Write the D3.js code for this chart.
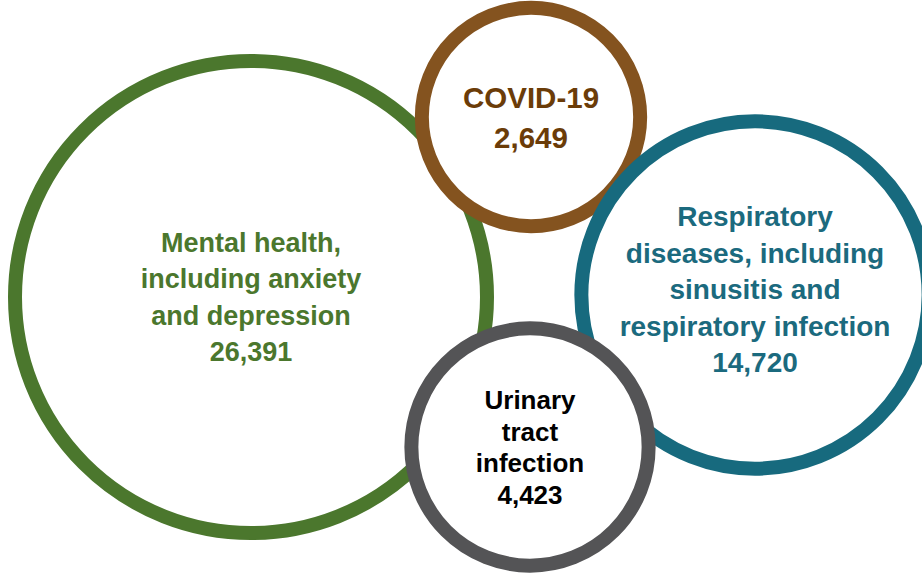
<!DOCTYPE html>
<html>
<head>
<meta charset="utf-8">
<script src="https://cdn.jsdelivr.net/npm/d3@7"></script>
<style>
  html, body { margin: 0; padding: 0; background: #ffffff; overflow: hidden; }
  svg { display: block; }
</style>
</head>
<body>
<svg id="chart" width="922" height="578"></svg>
<script>
// ---- data ----
const categories = ["Mental health", "COVID-19", "Respiratory diseases", "Urinary tract infection"];
const values = [26391, 2649, 14720, 4423];
const labelLines = [
  ["Mental health,", "including anxiety", "and depression"],
  ["COVID-19"],
  ["Respiratory", "diseases, including", "sinusitis and", "respiratory infection"],
  ["Urinary", "tract", "infection"]
];

// ---- layout & style (not data) ----
const W = 922, H = 578;
const layout = [
  { cx: 251, cy: 297 },
  { cx: 531, cy: 117 },
  { cx: 755, cy: 295 },
  { cx: 530, cy: 447 }
];
const styles = [
  { ring: "#4b772d", text: "#4b772d", font: 27,   lh: 36.5, dy: 0 },
  { ring: "#84531f", text: "#6b3c08", font: 29.5, lh: 40,   dy: 0 },
  { ring: "#176a7e", text: "#1b6a7e", font: 28,   lh: 36.5, dy: -6 },
  { ring: "#545456", text: "#000000", font: 26,   lh: 31.5, dy: 0 }
];
const strokeW = 14;

const rScale = d3.scaleLinear()
  .domain([0, d3.max(values)])
  .range([95, 236]);

const fmt = d3.format(",");

const nodes = categories.map((c, i) => ({
  name: c,
  value: values[i],
  lines: labelLines[i].concat([fmt(values[i])]),
  ...layout[i],
  ...styles[i]
}));

const svg = d3.select("#chart");

// custom radius tweaks to match picture via scale
const g = svg.selectAll("g.bubble")
  .data(nodes)
  .join("g")
  .attr("class", "bubble")
  .attr("transform", d => `translate(${d.cx},${d.cy})`);

g.append("circle")
  .attr("r", d => rScale(d.value))
  .attr("fill", "#ffffff")
  .attr("stroke", d => d.ring)
  .attr("stroke-width", strokeW);

g.each(function(d) {
  const n = d.lines.length;
  const capH = d.font * 0.716;
  const firstBaseline = -((n - 1) * d.lh) / 2 + capH / 2 + d.dy;
  const t = d3.select(this).append("text")
    .attr("text-anchor", "middle")
    .attr("font-family", "'Liberation Sans', Arial, Helvetica, sans-serif")
    .attr("font-weight", "bold")
    .attr("font-size", d.font)
    .attr("fill", d.text);
  d.lines.forEach((line, i) => {
    t.append("tspan")
      .attr("x", 0)
      .attr("y", firstBaseline + i * d.lh)
      .text(line);
  });
});
</script>
</body>
</html>
